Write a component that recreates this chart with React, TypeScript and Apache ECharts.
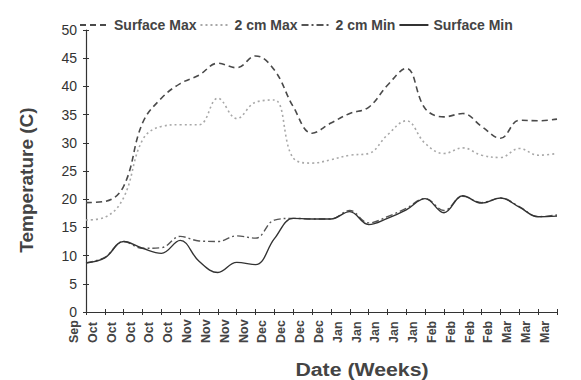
import React, { useEffect, useRef } from "react";
import * as echarts from "echarts";

const weeks = ["Sep","Oct","Oct","Oct","Oct","Oct","Nov","Nov","Nov","Nov","Dec","Dec","Dec","Dec","Jan","Jan","Jan","Jan","Jan","Feb","Feb","Feb","Feb","Mar","Mar","Mar"];
const surfaceMax = [19.4, 19.6, 22.3, 33.5, 37.9, 40.5, 42.0, 44.1, 43.3, 45.4, 42.9, 36.4, 31.7, 33.5, 35.2, 36.3, 40.2, 43.2, 36.1, 34.6, 35.2, 32.9, 30.8, 34.0, 33.9, 34.2];
const cm2Max = [16.3, 16.8, 20.3, 30.5, 32.9, 33.2, 33.2, 37.9, 34.3, 37.2, 37.6, 27.3, 26.4, 27.0, 27.8, 28.1, 31.4, 33.9, 29.9, 28.1, 29.1, 27.8, 27.4, 29.0, 27.8, 28.1];
const cm2Min = [8.7, 9.7, 12.5, 11.3, 11.4, 13.4, 12.6, 12.5, 13.5, 13.1, 16.3, 16.6, 16.5, 16.5, 18.0, 15.8, 16.9, 18.4, 20.1, 18.0, 20.5, 19.4, 20.2, 18.7, 16.9, 17.2];
const surfaceMin = [8.7, 9.6, 12.5, 11.3, 10.4, 12.7, 9.0, 7.0, 8.8, 8.4, 13.0, 16.6, 16.5, 16.5, 17.8, 15.5, 16.6, 18.1, 20.1, 17.6, 20.6, 19.3, 20.2, 18.6, 16.9, 17.0];
const yTicks = { min: 0, max: 50, interval: 5 };

const FONT = "'Liberation Sans', Arial, sans-serif";

export default function App() {
  const ref = useRef<HTMLDivElement>(null);
  useEffect(() => {
    if (!ref.current) return;
    const chart = echarts.init(ref.current, null, { renderer: "svg" });
    const mkSeries = (name: string, data: number[], color: string, type: any, width: number) => ({
      name,
      type: "line",
      data,
      smooth: 0.4,
      symbol: "none",
      showSymbol: false,
      xAxisIndex: 0,
      yAxisIndex: 0,
      lineStyle: { color, type, width },
      itemStyle: { color },
    });
    chart.setOption({
      animation: false,
      backgroundColor: "#fff",
      textStyle: { fontFamily: FONT },
      grid: { left: 86, right: 24, top: 30, bottom: 68 },
      legend: {
        left: 74,
        top: 13,
        itemWidth: 29,
        itemHeight: 10,
        itemGap: 3,
        itemStyle: { opacity: 0 },
        textStyle: { fontFamily: FONT, fontSize: 14, fontWeight: "bold", color: "#444" },
        data: ["Surface Max", "2 cm Max", "2 cm Min", "Surface Min"],
      },
      xAxis: [
        {
          type: "category",
          data: weeks,
          boundaryGap: false,
          axisLine: { lineStyle: { color: "#333", width: 1.2 } },
          axisTick: { show: true, length: 3, interval: 0, lineStyle: { color: "#333" } },
          axisLabel: {
            interval: 0,
            rotate: 90,
            margin: 31,
            align: "left",
            fontSize: 12.5,
            fontWeight: "bold",
            color: "#444",
            fontFamily: FONT,
            verticalAlign: "bottom",
            lineHeight: 24,
          },
          splitLine: { show: false },
        },
        {
          type: "category",
          data: weeks,
          boundaryGap: false,
          position: "bottom",
          axisLine: { show: false },
          axisTick: { show: true, inside: true, length: 3, interval: 0, lineStyle: { color: "#333" } },
          axisLabel: { show: false },
          splitLine: { show: false },
        },
      ],
      yAxis: [
        {
          type: "value",
          min: yTicks.min,
          max: yTicks.max,
          interval: yTicks.interval,
          axisLine: { show: true, lineStyle: { color: "#333", width: 1.2 } },
          axisTick: { show: true, length: 3, lineStyle: { color: "#333" } },
          axisLabel: { fontSize: 14, color: "#333", margin: 9, fontFamily: FONT },
          splitLine: { show: false },
        },
        {
          type: "value",
          min: yTicks.min,
          max: yTicks.max,
          interval: yTicks.interval,
          position: "left",
          axisLine: { show: false },
          axisTick: { show: true, inside: true, length: 3, lineStyle: { color: "#333" } },
          axisLabel: { show: false },
          splitLine: { show: false },
        },
      ],
      series: [
        mkSeries("Surface Max", surfaceMax, "#4a4a4a", [6, 4], 1.6),
        mkSeries("2 cm Max", cm2Max, "#a8a8a8", [2, 3], 1.6),
        mkSeries("2 cm Min", cm2Min, "#555555", [7, 3, 2, 3], 1.4),
        mkSeries("Surface Min", surfaceMin, "#333333", "solid", 1.4),
      ],
      graphic: [
        {
          type: "text",
          x: 362,
          y: 369,
          scaleX: 1.12,
          style: {
            text: "Date (Weeks)",
            fontFamily: FONT,
            fontSize: 19,
            fontWeight: "bold",
            fill: "#444",
            textAlign: "center",
            textVerticalAlign: "middle",
          },
        },
        {
          type: "text",
          x: 26,
          y: 180,
          rotation: Math.PI / 2,
          style: {
            text: "Temperature (C)",
            fontFamily: FONT,
            fontSize: 19,
            fontWeight: "bold",
            fill: "#444",
            textAlign: "center",
            textVerticalAlign: "middle",
          },
        },
      ],
    });
    return () => chart.dispose();
  }, []);
  return <div ref={ref} style={{ width: 581, height: 380, position: "absolute", left: 0, top: 0 }} />;
}
